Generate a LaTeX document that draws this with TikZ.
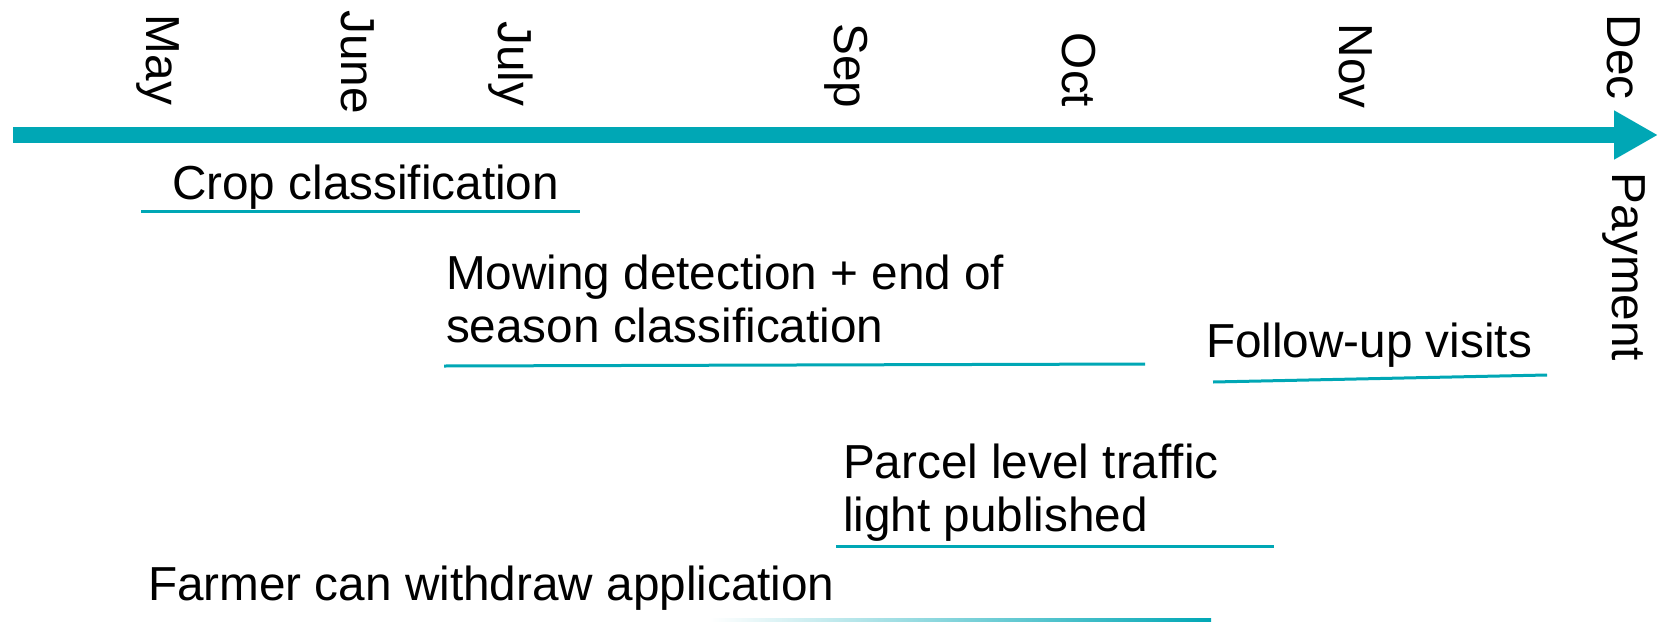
\documentclass[tikz,border=0pt]{standalone}
\usepackage{fontspec}
\setmainfont{Liberation Sans}
\usetikzlibrary{arrows.meta}
\definecolor{teal}{RGB}{0,167,181}
\begin{document}
\begin{tikzpicture}[x=0.5pt,y=-0.5pt,
  every node/.style={inner sep=0pt, outer sep=0pt, font=\fontsize{23.85}{26.5}\selectfont},
  month/.style={rotate=-90, anchor=center},
  task/.style={anchor=base west},
  block/.style={anchor=north west, align=left},
  uline/.style={draw=teal, line width=1.5pt}]
\useasboundingbox (0,0) rectangle (1658,621);
% timeline
\coordinate (t0) at (13,135);
\coordinate (t1) at (1658,135);
\draw[teal, line width=7.8pt, -{Triangle[length=22pt,width=23pt]}] (t0) -- (t1);
% months
\node[month] (may) at (158,60) {May};
\node[month] (jun) at (358,62) {June};
\node[month] (jul) at (511,64) {July};
\node[month] (sep) at (846,66) {Sep};
\node[month] (oct) at (1079,70) {Oct};
\node[month] (nov) at (1356,66) {Nov};
\node[month] (dec) at (1624,57) {Dec};
\node[month] (pay) at (1624,267) {Payment};
% tasks
\node[task] (crop) at (172,199) {Crop classification};
\draw[uline] (141,211) -- (580,211);
\node[block] (mow) at (446,255) {Mowing detection + end of\\season classification};
\draw[uline] (444,366) -- (1145,364);
\node[task] (fol) at (1206,357) {Follow-up visits};
\draw[uline] (1213,382) -- (1547,375);
\node[block] (par) at (843,444) {Parcel level traffic\\light published};
\draw[uline] (836,546) -- (1274,546);
\node[task] (farm) at (148,600) {Farmer can withdraw application};
\shade[left color=white, right color=teal] (710,618.5) rectangle (1211,621);
\end{tikzpicture}
\end{document}
